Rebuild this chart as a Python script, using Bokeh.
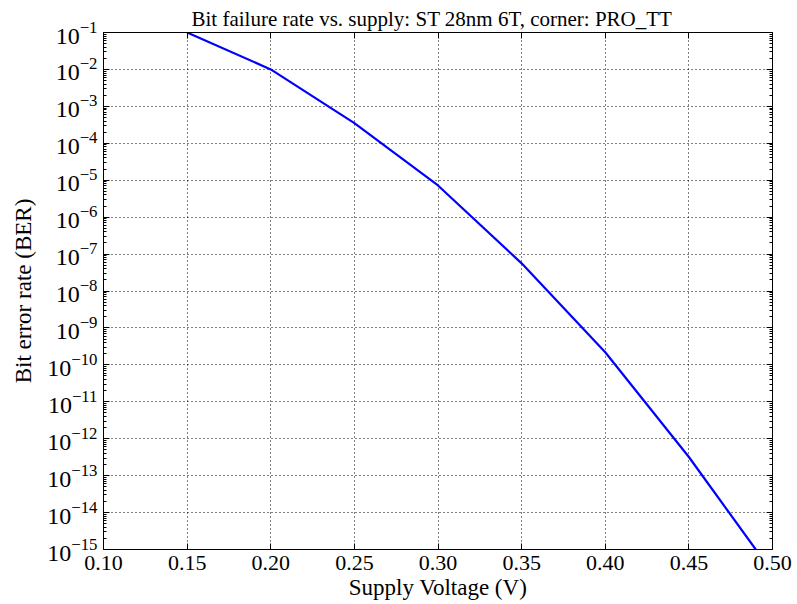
from bokeh.plotting import figure
from bokeh.models import (FixedTicker, LinearAxis, LogAxis, PrintfTickFormatter,
                          Range1d, CustomJSTickFormatter, ColumnDataSource)
from bokeh.embed import file_html
from bokeh.resources import INLINE

# Data
voltage = [0.15, 0.20, 0.25, 0.30, 0.35, 0.40, 0.45, 0.49]
ber = [1e-1, 1e-2, 3.5e-4, 7.2e-6, 5.6e-8, 2.2e-10, 3.2e-13, 1e-15]

x_ticks = [0.10, 0.15, 0.20, 0.25, 0.30, 0.35, 0.40, 0.45, 0.50]
y_exponents = list(range(-15, 0))
y_ticks = [10.0 ** e for e in y_exponents]
y_minor = [m * 10.0 ** e for e in y_exponents for m in range(2, 10)]

FONT = "Liberation Serif"

src = ColumnDataSource(data=dict(v=voltage, b=ber))

p = figure(width=797, height=604, output_backend="svg", toolbar_location=None,
           y_axis_type="log",
           x_range=Range1d(0.10, 0.50), y_range=Range1d(1e-15, 1e-1),
           min_border_left=103, min_border_right=25,
           min_border_top=32, min_border_bottom=55,
           title="Bit failure rate vs. supply: ST 28nm 6T, corner: PRO_TT")

p.title.text_font = FONT
p.title.text_font_size = "21px"
p.title.text_font_style = "normal"
p.title.text_color = "black"
p.title.align = "left"
p.title.offset = 88
p.title.standoff = 3

p.outline_line_color = "black"
p.outline_line_width = 1
p.outline_line_alpha = 1
p.background_fill_color = "white"
p.border_fill_color = "white"

p.line("v", "b", source=src, line_color="#0000ff", line_width=2.2)

xt = FixedTicker(ticks=x_ticks)
yt = FixedTicker(ticks=y_ticks, minor_ticks=y_minor)

xa = p.xaxis[0]
xa.ticker = xt
xa.formatter = PrintfTickFormatter(format="%.2f")
xa.axis_label = "Supply Voltage (V)"
ya = p.yaxis[0]
ya.ticker = yt
ya.axis_label = "Bit error rate (BER)"

for ax in (xa, ya):
    ax.axis_line_color = "black"
    ax.major_tick_in = 6
    ax.major_tick_out = 0
    ax.minor_tick_out = 0
    ax.major_label_text_font = FONT
    ax.major_label_text_color = "black"
    ax.axis_label_text_font = FONT
    ax.axis_label_text_font_style = "normal"
    ax.axis_label_text_font_size = "23px"
    ax.axis_label_text_color = "black"
xa.minor_tick_in = 0
ya.minor_tick_in = 3
xa.major_label_text_font_size = "22px"
ya.major_label_text_font_size = "24px"
xa.major_label_standoff = 6
ya.major_label_standoff = 6
xa.axis_label_standoff = 2
ya.axis_label_standoff = 8

# mirrored ticks on top and right
empty = CustomJSTickFormatter(code="return ''")
top = LinearAxis(ticker=xt, formatter=empty, major_tick_in=6, major_tick_out=0,
                 minor_tick_in=0, minor_tick_out=0, axis_line_color="black",
                 major_label_text_font_size="1px", major_label_standoff=0)
right = LogAxis(ticker=yt, formatter=empty, major_tick_in=6, major_tick_out=0,
                minor_tick_in=3, minor_tick_out=0, axis_line_color="black",
                major_label_text_font_size="1px", major_label_standoff=0)
p.add_layout(top, "above")
p.add_layout(right, "right")

for g in (p.xgrid[0], p.ygrid[0]):
    g.grid_line_color = "black"
    g.grid_line_dash = "1 3"
    g.grid_line_width = 1
    g.grid_line_alpha = 1
p.xgrid[0].ticker = xt
p.ygrid[0].ticker = yt

open("out.html", "w").write(file_html(p, INLINE))
